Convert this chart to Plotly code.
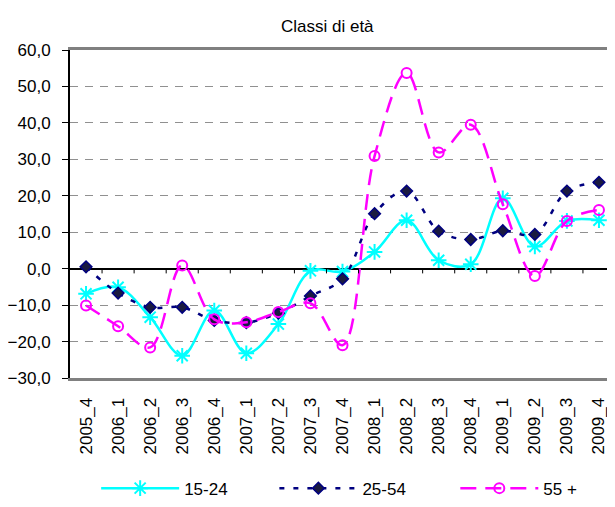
import plotly.graph_objects as go

periods = ["2005_4", "2006_1", "2006_2", "2006_3", "2006_4", "2007_1", "2007_2", "2007_3",
           "2007_4", "2008_1", "2008_2", "2008_3", "2008_4", "2009_1", "2009_2", "2009_3", "2009_4"]

eta_15_24 = [-6.9, -5.1, -13.3, -23.9, -11.5, -23.2, -15.2, -0.6,
             -0.8, 4.6, 13.3, 2.3, 1.2, 19.3, 6.1, 13.1, 13.3]
eta_25_54 = [0.5, -6.7, -10.6, -10.6, -14.2, -14.8, -12.2, -7.5,
             -2.8, 15.1, 21.3, 10.3, 8.0, 10.4, 9.4, 21.3, 23.7]
eta_55_plus = [-10.1, -15.8, -21.6, 0.9, -13.9, -14.7, -11.9, -9.5,
               -21.0, 30.9, 53.7, 31.9, 39.5, 17.7, -2.0, 13.1, 16.1]

fig = go.Figure()

fig.add_trace(go.Scatter(
    x=periods, y=eta_15_24, name="15-24", mode="lines+markers", legend="legend",
    line=dict(color="#00FFFF", width=2.5, shape="spline", smoothing=1),
    marker=dict(symbol="asterisk-open", size=13, line=dict(color="#00FFFF", width=2)),
))
fig.add_trace(go.Scatter(
    x=periods, y=eta_25_54, name="25-54", mode="lines+markers", legend="legend2",
    line=dict(color="#000080", width=2.5, shape="spline", smoothing=1, dash="5px,9px"),
    marker=dict(symbol="diamond", size=9, color="#1a1a40", line=dict(color="#000080", width=1.5)),
))
fig.add_trace(go.Scatter(
    x=periods, y=eta_55_plus, name="55 +", mode="lines+markers", legend="legend3",
    line=dict(color="#FF00FF", width=2.5, shape="spline", smoothing=1, dash="16px,9px"),
    marker=dict(symbol="circle-open", size=10, line=dict(color="#FF00FF", width=2)),
))

# small tick marks on the zero line between categories
for i in range(1, len(periods)):
    fig.add_shape(type="line", xref="x", yref="y", x0=i - 0.5, x1=i - 0.5, y0=0, y1=-1.3,
                  line=dict(color="black", width=1))

leg = dict(orientation="h", xanchor="left", y=-0.392, yanchor="bottom",
           font=dict(size=17), itemwidth=78, bgcolor="rgba(0,0,0,0)")

# page body adds an 8px offset, so the figure is 8px smaller than the window
fig.update_layout(
    width=607, height=499,
    margin=dict(l=56, r=0, t=42, b=129),
    paper_bgcolor="white", plot_bgcolor="white",
    separators=",.",
    font=dict(family="Liberation Sans, Arial, sans-serif", size=17, color="black"),
    title=dict(text="Classi di età", x=0.526, xanchor="center", y=0.964, yanchor="middle",
               font=dict(size=17)),
    showlegend=True,
    legend=dict(leg, x=0.048),
    legend2=dict(leg, x=0.375),
    legend3=dict(leg, x=0.707),
)

fig.update_xaxes(
    type="category", tickangle=-90, showgrid=False, zeroline=False,
    showline=True, linecolor="#808080", linewidth=3, mirror=True,
    ticks="", ticklabelstandoff=10, tickfont=dict(size=17), range=[-0.5, len(periods) - 0.5],
)
fig.update_yaxes(
    range=[-30, 60], dtick=10, tickformat=".1f",
    showgrid=True, gridcolor="#909090", griddash="8px,7px", gridwidth=1,
    zeroline=True, zerolinecolor="black", zerolinewidth=1.5,
    showline=True, linecolor="black", linewidth=2,
    ticks="outside", ticklen=6, tickcolor="black", ticklabelstandoff=8,
)

fig.write_html("out.html")
